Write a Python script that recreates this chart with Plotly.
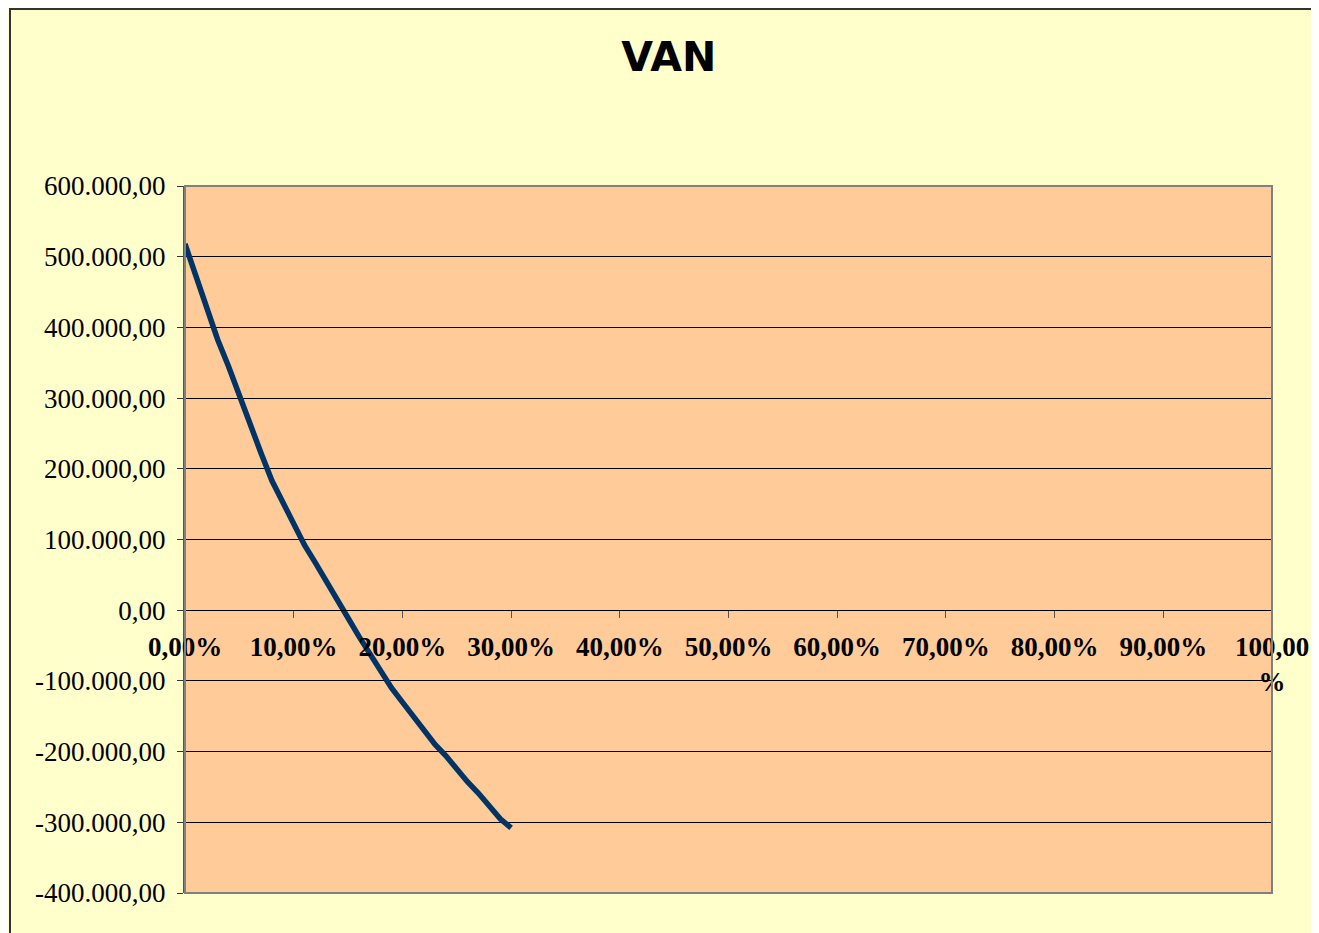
import plotly.graph_objects as go

# Discount rate (%) and net present value (VAN)
rates = list(range(0, 31))
van = [518000, 472000, 425000, 383000, 345000, 303000, 262000, 222000, 183000,
       153000, 120000, 92000, 67000, 40000, 13000, -11000, -37000, -61000,
       -88000, -110000, -130000, -151000, -171000, -190000, -206000, -225000,
       -243000, -259000, -276000, -295000, -308000]

y_tick_vals = [600000, 500000, 400000, 300000, 200000, 100000, 0,
               -100000, -200000, -300000, -400000]
x_tick_vals = [0, 10, 20, 30, 40, 50, 60, 70, 80, 90, 100]
x_tick_text = ["0,00%", "10,00%", "20,00%", "30,00%", "40,00%", "50,00%",
               "60,00%", "70,00%", "80,00%", "90,00%", "100,00<br>%"]


def fmt(v):
    s = f"{abs(v):,.2f}".replace(",", "X").replace(".", ",").replace("X", ".")
    return ("-" if v < 0 else "") + s


y_tick_text = [fmt(v) for v in y_tick_vals]

fig = go.Figure()
fig.add_trace(go.Scatter(x=rates, y=van, mode="lines",
                         line=dict(color="#003366", width=5.5),
                         showlegend=False, hoverinfo="x+y"))

fig.update_layout(
    width=1319, height=933,
    paper_bgcolor="#FFFFCC", plot_bgcolor="#FFCC99",
    margin=dict(l=177, r=55, t=178, b=48),
    title=dict(text="<b>VAN</b>", x=0.501, xanchor="center", y=0.9475, yanchor="middle",
               font=dict(family="DejaVu Sans", size=41, color="black")),
    xaxis=dict(range=[0, 100], tickvals=x_tick_vals, ticktext=x_tick_text,
               anchor="free", position=0.4, showgrid=False, zeroline=False,
               showline=True, linecolor="black", linewidth=1,
               ticks="outside", ticklen=7, tickcolor="#555555", tickwidth=1,
               ticklabelstandoff=5,
               tickfont=dict(family="Liberation Serif", size=27, color="black",
                             weight="bold")),
    yaxis=dict(range=[-400000, 600000], tickvals=y_tick_vals, ticktext=y_tick_text,
               showgrid=True, gridcolor="black", gridwidth=1, zeroline=False,
               showline=True, linecolor="#555555", linewidth=2,
               ticks="outside", ticklen=6, tickcolor="#333333",
               ticklabelstandoff=6,
               tickfont=dict(family="Liberation Serif", size=27, color="black")),
)

# Plot area border
fig.add_shape(type="rect", xref="paper", yref="paper", x0=0, x1=1, y0=0, y1=1,
              line=dict(color="#808080", width=2), layer="above")
# Chart outer border
fig.add_shape(type="rect", xref="paper", yref="paper",
              x0=-175 / 1087, x1=1131 / 1087, y0=-70 / 707, y1=1 + 177 / 707,
              line=dict(color="#333333", width=2), layer="below")

fig.write_html("out.html")
